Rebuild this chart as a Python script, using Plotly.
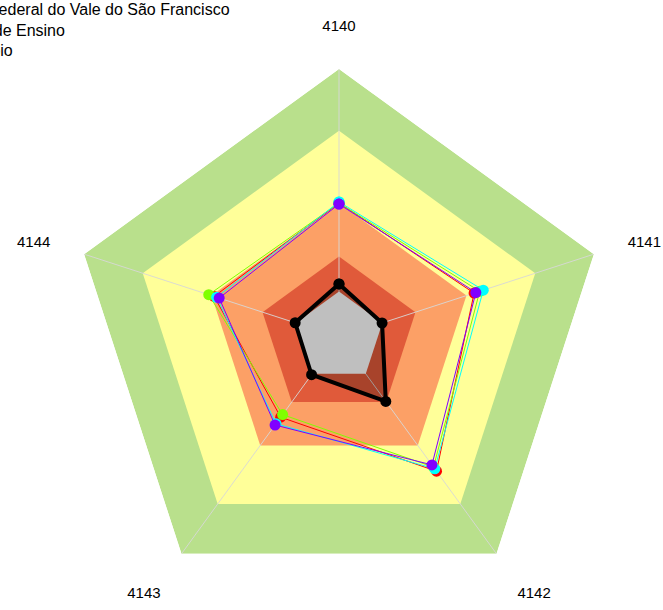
import plotly.graph_objects as go

W, H = 663, 610

categories = ["4140", "4141", "4142", "4143", "4144"]

# background bands (outer -> inner)
band_levels = [1.0, 0.77, 0.50, 0.30]
band_colors = ["#b9e08c", "#ffff99", "#fca066", "#e05a3a"]

inner_level = 0.17
inner_color = "#bfbfbf"

series_names = [
    "Universidade Federal do Vale do São Francisco",
    "Média da Instituição de Ensino",
    "Média do Município",
    "Média Brasil",
]
series_colors = ["#FF0000", "#80FF00", "#00FFFF", "#8000FF"]
red_vals = [0.50, 0.530, 0.619, 0.370, 0.490]
green_vals = [0.50, 0.552, 0.600, 0.358, 0.511]
cyan_vals = [0.504, 0.566, 0.608, 0.400, 0.480]
purple_vals = [0.496, 0.537, 0.590, 0.406, 0.470]
series_values = [red_vals, green_vals, cyan_vals, purple_vals]

black_vals = [0.198, 0.169, 0.297, 0.174, 0.172]

legend_lines = [
    "Universidade Federal do Vale do São Francisco",
    "Média da Instituição de Ensino",
    "Média do Município",
]


def closed(v):
    return list(v) + [v[0]]


theta_c = closed(categories)

fig = go.Figure()

for lvl, col in zip(band_levels, band_colors):
    fig.add_trace(go.Scatterpolar(
        r=[lvl] * 6, theta=theta_c, mode="lines", fill="toself",
        fillcolor=col, line=dict(width=0, color=col), hoverinfo="skip",
        showlegend=False))

# spokes
for c in categories:
    fig.add_trace(go.Scatterpolar(
        r=[0, 1], theta=[c, c], mode="lines",
        line=dict(color="rgba(215,215,215,0.9)", width=1),
        hoverinfo="skip", showlegend=False))

# black series fill
fig.add_trace(go.Scatterpolar(
    r=closed(black_vals), theta=theta_c, mode="lines", fill="toself",
    fillcolor="rgba(0,0,0,0.25)", line=dict(width=0), hoverinfo="skip",
    showlegend=False))

# inner gray
fig.add_trace(go.Scatterpolar(
    r=[inner_level] * 6, theta=theta_c, mode="lines", fill="toself",
    fillcolor=inner_color, line=dict(width=0, color=inner_color),
    hoverinfo="skip", showlegend=False))

for name, col, vals in zip(series_names, series_colors, series_values):
    fig.add_trace(go.Scatterpolar(
        r=closed(vals), theta=theta_c, mode="lines+markers", name=name,
        line=dict(color=col, width=1), marker=dict(color=col, size=11),
        showlegend=False))

fig.add_trace(go.Scatterpolar(
    r=closed(black_vals), theta=theta_c, mode="lines+markers",
    line=dict(color="black", width=4), marker=dict(color="black", size=11),
    showlegend=False))

cx, cy, R = 339, 337, 268
fig.update_layout(
    width=W, height=H,
    margin=dict(l=0, r=0, t=0, b=0),
    paper_bgcolor="white",
    font=dict(family="Liberation Sans, Arial, sans-serif", size=15, color="black"),
    polar=dict(
        domain=dict(x=[(cx - R) / W, (cx + R) / W],
                    y=[1 - (cy + R) / H, 1 - (cy - R) / H]),
        gridshape="linear",
        bgcolor="rgba(0,0,0,0)",
        radialaxis=dict(visible=False, range=[0, 1]),
        angularaxis=dict(
            type="category", categoryarray=categories,
            rotation=90, direction="clockwise",
            showgrid=False, showline=False,
            ticks="outside", ticklen=32, tickcolor="rgba(0,0,0,0)",
            tickfont=dict(size=15, color="black"),
        ),
    ),
)

ends = [232, 67, 15]
ys = [9, 30, 51]
for txt, xe, yc in zip(legend_lines, ends, ys):
    fig.add_annotation(
        text=txt, xref="paper", yref="paper", x=xe / W,
        y=1 - yc / H,
        xanchor="right", yanchor="middle", showarrow=False,
        font=dict(size=16, color="black"))

fig.write_html("out.html", config={"displayModeBar": False},
               post_script="document.body.style.margin='0';")
